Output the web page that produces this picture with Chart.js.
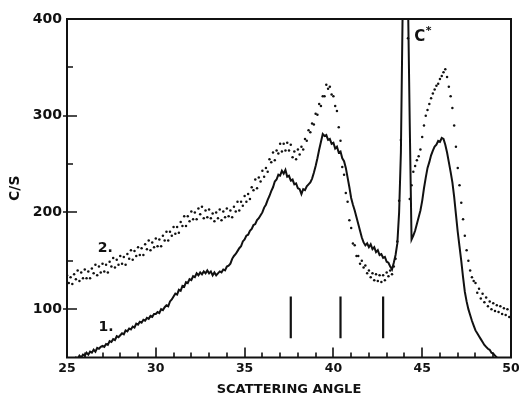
<!DOCTYPE html>
<html>
<head>
<meta charset="utf-8">
<script src="https://cdn.jsdelivr.net/npm/chart.js@4.4.1/dist/chart.umd.min.js"></script>
<style>
html,body{margin:0;padding:0;background:#fff;}
canvas{display:block;}
</style>
</head>
<body>
<canvas id="c" width="519" height="396"></canvas>
<script>
// Scattering angle samples (degrees)
const angles = [
25.0,25.1,25.2,25.3,25.4,25.5,25.6,25.7,25.8,25.9,
26.0,26.1,26.2,26.3,26.4,26.5,26.6,26.7,26.8,26.9,
27.0,27.1,27.2,27.3,27.4,27.5,27.6,27.7,27.8,27.9,
28.0,28.1,28.2,28.3,28.4,28.5,28.6,28.7,28.8,28.9,
29.0,29.1,29.2,29.3,29.4,29.5,29.6,29.7,29.8,29.9,
30.0,30.1,30.2,30.3,30.4,30.5,30.6,30.7,30.8,30.9,
31.0,31.1,31.2,31.3,31.4,31.5,31.6,31.7,31.8,31.9,
32.0,32.1,32.2,32.3,32.4,32.5,32.6,32.7,32.8,32.9,
33.0,33.1,33.2,33.3,33.4,33.5,33.6,33.7,33.8,33.9,
34.0,34.1,34.2,34.3,34.4,34.5,34.6,34.7,34.8,34.9,
35.0,35.1,35.2,35.3,35.4,35.5,35.6,35.7,35.8,35.9,
36.0,36.1,36.2,36.3,36.4,36.5,36.6,36.7,36.8,36.9,
37.0,37.1,37.2,37.3,37.4,37.5,37.6,37.7,37.8,37.9,
38.0,38.1,38.2,38.3,38.4,38.5,38.6,38.7,38.8,38.9,
39.0,39.1,39.2,39.3,39.4,39.5,39.6,39.7,39.8,39.9,
40.0,40.1,40.2,40.3,40.4,40.5,40.6,40.7,40.8,40.9,
41.0,41.1,41.2,41.3,41.4,41.5,41.6,41.7,41.8,41.9,
42.0,42.1,42.2,42.3,42.4,42.5,42.6,42.7,42.8,42.9,
43.0,43.1,43.2,43.3,43.4,43.5,43.6,43.7,43.8,43.9,
44.0,44.1,44.2,44.3,44.4,44.5,44.6,44.7,44.8,44.9,
45.0,45.1,45.2,45.3,45.4,45.5,45.6,45.7,45.8,45.9,
46.0,46.1,46.2,46.3,46.4,46.5,46.6,46.7,46.8,46.9,
47.0,47.1,47.2,47.3,47.4,47.5,47.6,47.7,47.8,47.9,
48.0,48.1,48.2,48.3,48.4,48.5,48.6,48.7,48.8,48.9,
49.0,49.1,49.2,49.3,49.4,49.5,49.6,49.7,49.8,49.9,
50.0
];

// Curve 1 (solid trace), counts per second
const curve1 = [
44,46,45,48,47,50,49,52,50,53,
52,55,53,56,55,58,56,60,59,61,
62,61,64,63,67,66,69,68,72,71,
73,75,74,78,77,80,79,82,81,85,
84,87,86,89,88,91,90,93,92,95,
95,97,96,100,99,102,104,103,108,110,
113,116,115,120,119,124,123,128,127,131,
130,134,133,137,135,138,136,139,137,140,
137,139,135,138,135,137,139,138,141,140,
144,145,147,152,155,157,160,163,165,170,
172,176,177,181,183,187,188,192,194,197,
200,205,208,213,217,222,226,232,234,239,
238,243,240,244,237,238,233,234,229,230,
225,224,219,224,223,227,229,231,235,241,
248,256,265,273,281,279,280,275,276,271,
272,266,268,262,263,256,253,246,236,226,
215,208,202,195,188,181,174,169,166,168,
164,167,162,164,159,161,156,157,153,154,
149,148,144,141,148,156,168,200,262,410,
520,520,420,290,172,176,181,188,195,202,
212,225,236,246,252,259,264,268,270,274,
273,277,276,270,262,252,242,231,216,198,
180,165,150,133,118,108,100,94,88,83,
78,75,72,69,66,63,61,59,58,55,
54,52,50,48,47,45,44,42,41,40,
40
];

// Curve 2 (dotted trace), counts per second
const curve2 = [
135,127,133,126,136,131,140,129,138,132,
141,132,139,132,142,137,146,135,144,138,
147,139,146,138,149,144,153,143,151,146,
155,147,154,146,157,152,161,151,160,155,
164,156,163,156,167,162,171,161,169,164,
173,165,172,165,176,171,180,171,180,176,
185,178,185,179,190,186,196,186,196,191,
201,193,200,193,204,198,206,194,202,195,
203,194,199,191,200,194,203,192,201,195,
204,196,202,195,206,201,211,202,211,207,
217,211,219,214,226,223,234,225,236,232,
243,237,246,242,255,252,262,254,264,261,
271,263,271,264,272,264,270,257,263,255,
265,260,268,265,276,274,285,283,292,291,
302,301,312,310,320,320,332,328,330,322,
320,310,305,288,274,247,239,220,211,192,
184,168,166,155,155,147,150,143,145,137,
140,133,137,130,136,129,135,128,135,130,
138,134,140,136,144,152,170,212,275,405,
520,520,380,214,228,242,248,254,258,265,
278,290,300,306,312,318,323,327,331,333,
338,341,345,348,340,330,320,308,290,268,
246,228,210,193,176,161,150,140,133,129,
127,117,121,111,116,107,112,103,108,100,
106,98,104,97,103,95,101,94,100,92,
98
];

// Vertical reflection markers below the curves
const markerAngles = [37.6, 40.4, 42.8];
const markerLow = 70;
const markerHigh = 113;

// Axis ticks
const xTickValues = [25, 30, 35, 40, 45, 50];
const xMinorTicks = [26,27,28,29,31,32,33,34,36,37,38,39,41,42,43,44,46,47,48,49];
const yTickValues = [100, 200, 300, 400];
const yMinorTicks = [150, 250, 350];

const FONT = "'DejaVu Sans', 'Liberation Sans', sans-serif";
const INK = '#111';

const datasets = [
  {
    label: '1.',
    data: angles.map((a, i) => ({x: a, y: curve1[i]})),
    borderColor: INK,
    borderWidth: 2,
    pointRadius: 0,
    tension: 0,
    fill: false
  },
  {
    label: '2.',
    data: angles.map((a, i) => ({x: a, y: curve2[i]})),
    showLine: false,
    pointRadius: 1.25,
    pointBackgroundColor: INK,
    pointBorderWidth: 0,
    borderColor: INK
  }
];
markerAngles.forEach(a => {
  datasets.push({
    label: 'marker',
    data: [{x: a, y: markerLow}, {x: a, y: markerHigh}],
    borderColor: INK,
    borderWidth: 2.2,
    pointRadius: 0,
    fill: false
  });
});

const frameTicks = {
  id: 'frameTicks',
  afterDraw(chart) {
    const {ctx, chartArea: ca, scales: {x, y}} = chart;
    ctx.save();
    ctx.strokeStyle = INK;
    ctx.lineWidth = 2;
    ctx.strokeRect(ca.left, ca.top, ca.right - ca.left, ca.bottom - ca.top);
    ctx.lineWidth = 1.6;
    ctx.beginPath();
    xTickValues.slice(1, -1).forEach(v => {
      const px = Math.round(x.getPixelForValue(v));
      ctx.moveTo(px, ca.bottom); ctx.lineTo(px, ca.bottom - 10);
    });
    xMinorTicks.forEach(v => {
      const px = Math.round(x.getPixelForValue(v));
      ctx.moveTo(px, ca.bottom); ctx.lineTo(px, ca.bottom - 5);
    });
    yTickValues.slice(0, -1).forEach(v => {
      const py = Math.round(y.getPixelForValue(v));
      ctx.moveTo(ca.left - 4, py); ctx.lineTo(ca.left + 10, py);
    });
    yMinorTicks.forEach(v => {
      const py = Math.round(y.getPixelForValue(v));
      ctx.moveTo(ca.left, py); ctx.lineTo(ca.left + 6, py);
    });
    ctx.stroke();

    // curve labels
    ctx.fillStyle = INK;
    ctx.font = "bold 14px " + FONT;
    ctx.textAlign = 'center';
    ctx.textBaseline = 'middle';
    ctx.fillText('2.', x.getPixelForValue(27.15), y.getPixelForValue(163));
    ctx.fillText('1.', x.getPixelForValue(27.2), y.getPixelForValue(81));
    ctx.font = "bold 15px " + FONT;
    ctx.textAlign = 'left';
    ctx.fillText('C', x.getPixelForValue(44.55), y.getPixelForValue(381));
    ctx.font = "bold 11px " + FONT;
    ctx.fillText('*', x.getPixelForValue(45.2), y.getPixelForValue(387));
    ctx.restore();
  }
};

new Chart(document.getElementById('c'), {
  type: 'line',
  data: {datasets},
  options: {
    responsive: false,
    animation: false,
    devicePixelRatio: 1,
    layout: {padding: {top: 19, right: 8, left: 0, bottom: 0}},
    plugins: {legend: {display: false}, tooltip: {enabled: false}},
    scales: {
      x: {
        type: 'linear',
        min: 25, max: 50,
        afterBuildTicks: s => { s.ticks = xTickValues.map(v => ({value: v})); },
        afterFit: s => { s.height = 38.5; s.paddingLeft = 0; s.paddingRight = 0; },
        grid: {display: false, drawTicks: false},
        border: {display: false},
        ticks: {
          color: INK, padding: 4,
          font: {family: FONT, size: 12.5, weight: 'bold'},
          maxRotation: 0
        },
        title: {
          display: true, text: 'SCATTERING ANGLE', color: INK,
          font: {family: FONT, size: 13, weight: 'bold', lineHeight: 1},
          padding: {top: 0, bottom: 0}
        }
      },
      y: {
        type: 'linear',
        min: 50, max: 400,
        afterBuildTicks: s => { s.ticks = yTickValues.map(v => ({value: v})); },
        afterFit: s => { s.width = 67; s.paddingTop = 0; s.paddingBottom = 0; },
        grid: {display: false, drawTicks: false},
        border: {display: false},
        ticks: {
          color: INK, padding: 5,
          font: {family: FONT, size: 14, weight: 'bold'}
        },
        title: {
          display: true, text: 'C/S', color: INK,
          font: {family: FONT, size: 14, weight: 'bold', lineHeight: 1},
          padding: {top: 8, bottom: 0}
        }
      }
    }
  },
  plugins: [frameTicks]
});
</script>
</body>
</html>
